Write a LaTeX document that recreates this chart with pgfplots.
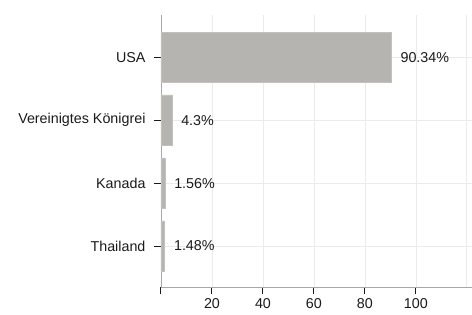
\documentclass[border=0pt]{standalone}
\usepackage{fontspec}
\setmainfont{Liberation Sans}
\usepackage{pgfplots}
\pgfplotsset{compat=1.18}
\definecolor{barfill}{HTML}{B5B4B0}
\definecolor{baredge}{HTML}{C2C1BD}
\definecolor{gridc}{HTML}{EBEBEB}
\definecolor{axc}{HTML}{A8A8A8}
\definecolor{txt}{HTML}{1A1A1A}
\begin{document}
\begin{tikzpicture}
\begin{axis}[
  at={(0,0)}, anchor=south west,
  scale only axis,
  width=311pt, height=272pt,
  xmin=0, xmax=122,
  ymin=-0.65, ymax=3.67,
  axis x line*=bottom, axis y line*=left,
  axis line style={draw=axc, line width=0.8pt, -},
  xtick={0,20,40,60,80,100},
  xticklabels={,20,40,60,80,100},
  extra x ticks={120},
  extra x tick labels={},
  extra x tick style={major tick length=0pt, grid=major},
  ytick={0,1,2,3},
  yticklabels={Thailand,Kanada,Vereinigtes Königrei,USA},
  tick align=outside,
  major tick length=7pt,
  tick style={draw=black!90, line width=1pt},
  xmajorgrids, ymajorgrids,
  major grid style={draw=gridc, line width=0.8pt},
  ticklabel style={font=\fontsize{14.3}{16}\selectfont, text=txt},
  /pgf/number format/assume math mode=true,
  xticklabel style={yshift=-1pt},
  yticklabel style={xshift=-5pt},
  xbar, bar width=0.8,
  point meta=explicit symbolic,
  nodes near coords,
  nodes near coords style={anchor=west, inner sep=0pt, xshift=9pt, font=\fontsize{14.3}{16}\selectfont, text=txt},
  clip=false,
]
\addplot[fill=barfill, draw=baredge, line width=0.6pt] coordinates {
  (90.34,3) [90.34\%]
  (4.3,2) [4.3\%]
  (1.56,1) [1.56\%]
  (1.48,0) [1.48\%]
};
\end{axis}
\pgfresetboundingbox
\path (-161pt,-27pt) rectangle (311pt,287pt);
\end{tikzpicture}
\end{document}
